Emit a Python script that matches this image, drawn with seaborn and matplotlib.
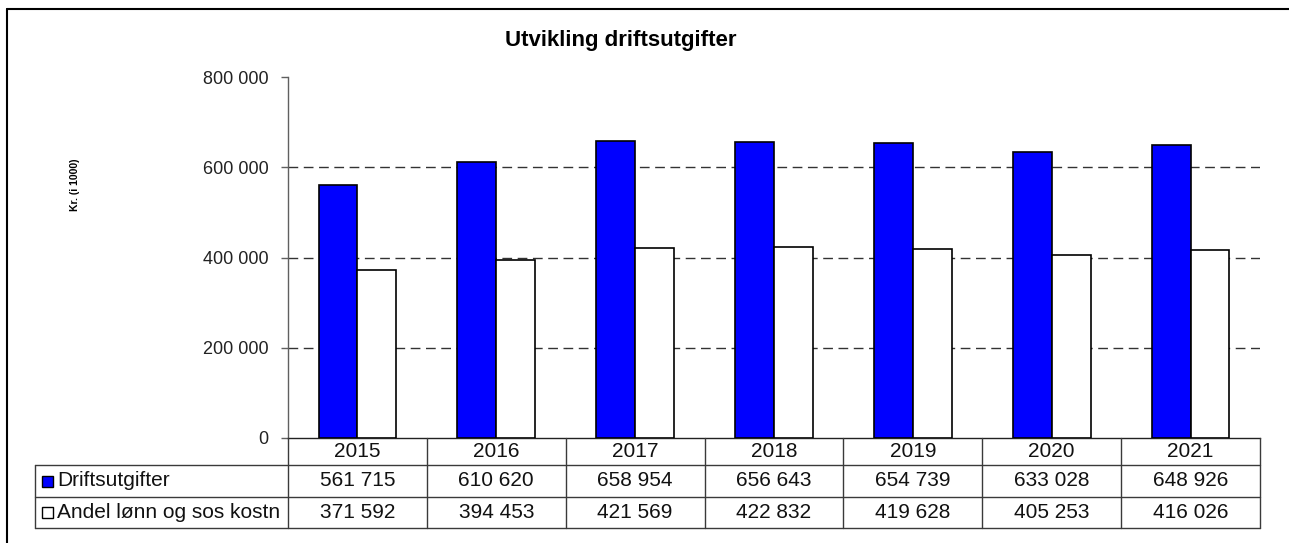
import matplotlib
matplotlib.use("Agg")
import matplotlib.pyplot as plt
import matplotlib.transforms as mtransforms
from matplotlib.lines import Line2D
from matplotlib.patches import Rectangle
import seaborn as sns
import pandas as pd

# ---- data ----
years = ["2015", "2016", "2017", "2018", "2019", "2020", "2021"]
drift = [561715, 610620, 658954, 656643, 654739, 633028, 648926]
andel = [371592, 394453, 421569, 422832, 419628, 405253, 416026]
series_names = ["Driftsutgifter", "Andel lønn og sos kostn"]
series_colors = ["#0000FF", "#FFFFFF"]
title = "Utvikling driftsutgifter"
ylabel = "Kr. (i 1000)"
yticks = [0, 200000, 400000, 600000, 800000]


def fmt(v):
    return f"{v:,}".replace(",", " ")


sns.set_theme(style="white")
plt.rcParams['font.family'] = ['Liberation Sans', 'DejaVu Sans']

W, H = 1289, 543
fig = plt.figure(figsize=(W / 100, H / 100), dpi=100)


def fx(px):
    return px / W


def fy(py):
    return 1 - py / H


ax = fig.add_axes([fx(288), fy(438), fx(1260) - fx(288), fy(77) - fy(438)])

df = pd.DataFrame({
    "Year": years * 2,
    "Value": drift + andel,
    "Series": [series_names[0]] * len(years) + [series_names[1]] * len(years),
})
sns.barplot(data=df, x="Year", y="Value", hue="Series", palette=series_colors,
            edgecolor="black", linewidth=1.2, width=0.56, gap=0, saturation=1,
            legend=False, ax=ax, zorder=3)

ax.set_xlim(-0.5, len(years) - 0.5)
ax.set_ylim(0, 800000)
ax.set_yticks(yticks)
ax.set_yticklabels([fmt(v) for v in yticks])
ax.set_xticks(range(len(years)))
ax.set_xticklabels([])
ax.set_xlabel("")
ax.set_ylabel("")
for y in yticks[1:-1]:
    ax.axhline(y, color="#333333", lw=1, ls=(0, (7, 4)), zorder=0.5)

for s in ["top", "right"]:
    ax.spines[s].set_visible(False)
ax.spines["left"].set_color("#606060")
ax.spines["left"].set_linewidth(1)
ax.spines["bottom"].set_color("#222222")
ax.spines["bottom"].set_linewidth(1)
ax.tick_params(axis="y", left=True, direction="out", length=5, width=1,
               color="#606060", pad=9, labelsize=13, labelcolor="#222222")
ax.tick_params(axis="x", bottom=False)

# ---- data table ----
bt = mtransforms.blended_transform_factory(ax.transData, fig.transFigure)
lc = "#3a3a3a"
for i in range(len(years) + 1):
    fig.add_artist(Line2D([i - 0.5, i - 0.5], [fy(438), fy(528)], transform=bt,
                          color=lc, lw=1))
for yy in [465, 497, 528]:
    fig.add_artist(Line2D([fx(35), fx(1260)], [fy(yy), fy(yy)],
                          transform=fig.transFigure, color=lc, lw=1))
fig.add_artist(Line2D([fx(35), fx(35)], [fy(465), fy(528)],
                      transform=fig.transFigure, color=lc, lw=1))

row_y = [451.5, 481, 512.5]
for i, yr in enumerate(years):
    fig.text(i, fy(row_y[0]), yr, transform=bt, ha="center", va="center",
             fontsize=15, color="#111111")
    fig.text(i, fy(row_y[1]), fmt(drift[i]), transform=bt, ha="center",
             va="center", fontsize=15, color="#111111")
    fig.text(i, fy(row_y[2]), fmt(andel[i]), transform=bt, ha="center",
             va="center", fontsize=15, color="#111111")

for name, col, yc in zip(series_names, series_colors, row_y[1:]):
    fig.add_artist(Rectangle((fx(42), fy(yc + 5.5)), fx(11), 11 / H,
                             transform=fig.transFigure, facecolor=col,
                             edgecolor="black", lw=1))
    fig.text(fx(57), fy(yc), name, ha="left", va="center", fontsize=15,
             color="#111111")

# ---- titles ----
fig.text(fx(620.5), fy(46), title, ha="center", va="baseline", fontsize=16,
         weight="bold", color="black")
fig.text(fx(75), fy(185), ylabel, rotation=90, ha="center", va="center",
         fontsize=7.5, weight="bold", color="black")

# ---- outer frame ----
fig.add_artist(Line2D([fx(7), 1], [fy(9), fy(9)], transform=fig.transFigure,
                      color="black", lw=1.5))
fig.add_artist(Line2D([fx(7), fx(7)], [fy(9), 0], transform=fig.transFigure,
                      color="black", lw=1.5))

fig.savefig("out.png", dpi=100)
